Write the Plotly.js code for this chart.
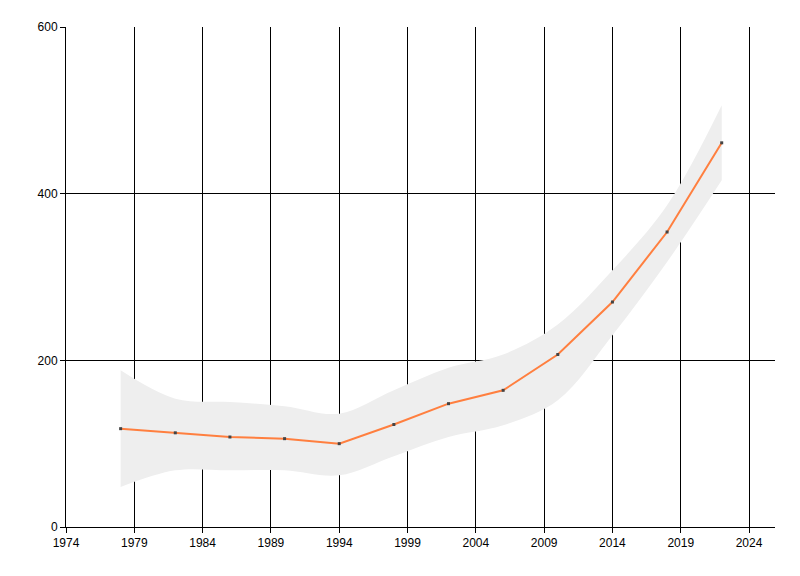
<!DOCTYPE html>
<html>
<head>
<meta charset="utf-8">
<script src="https://cdn.plot.ly/plotly-3.0.1.min.js"></script>
<style>
  html, body { margin: 0; padding: 0; background: #fff; }
  #chart { width: 800px; height: 576px; }
</style>
</head>
<body>
<div id="chart"></div>
<script>
// values
const years = [1978, 1982, 1986, 1990, 1994, 1998, 2002, 2006, 2010, 2014, 2018, 2022];
const values = [118, 113, 108, 106, 100, 123, 148, 164, 207, 270, 354, 461];
const upper = [188, 154, 150, 145, 136, 164, 191, 207, 243, 308, 386, 506];
const lower = [48, 68, 68, 68, 62, 85, 108, 122, 152, 230, 318, 416];

const xTicks = [1974, 1979, 1984, 1989, 1994, 1999, 2004, 2009, 2014, 2019, 2024];
const yTicks = [0, 200, 400, 600];

const bandColor = '#EEEEEE';
const lineColor = '#FF7F3F';

const traces = [
    {
        x: years, y: lower, type: 'scatter', mode: 'lines',
        line: { width: 0, shape: 'spline', smoothing: 1 },
        hoverinfo: 'skip', showlegend: false
    },
    {
        x: years, y: upper, type: 'scatter', mode: 'lines',
        line: { width: 0, shape: 'spline', smoothing: 1 },
        fill: 'tonexty', fillcolor: bandColor,
        hoverinfo: 'skip', showlegend: false
    },
    {
        x: years, y: values, type: 'scatter', mode: 'lines+markers',
        line: { color: lineColor, width: 2 },
        marker: { color: '#444444', size: 3, symbol: 'square' },
        showlegend: false
    }
];

const axisCommon = {
    showline: true, linecolor: '#000', linewidth: 1,
    showgrid: true, gridcolor: '#000', gridwidth: 1,
    ticks: 'outside', ticklen: 5, tickcolor: '#000',
    zeroline: false,
    tickfont: { family: 'Liberation Sans, Arial, sans-serif', size: 12, color: '#000' },
    layer: 'below traces'
};

const layout = {
    width: 800, height: 576,
    paper_bgcolor: '#fff', plot_bgcolor: '#fff',
    margin: { l: 66, r: 25, t: 27, b: 49 },
    showlegend: false,
    xaxis: { ...axisCommon, range: [1974, 2025.9], tickvals: xTicks, ticktext: xTicks.map(String) },
    yaxis: { ...axisCommon, range: [0, 600], tickvals: yTicks, ticktext: yTicks.map(String) }
};

Plotly.newPlot('chart', traces, layout, { displayModeBar: false, staticPlot: true });
</script>
</body>
</html>
